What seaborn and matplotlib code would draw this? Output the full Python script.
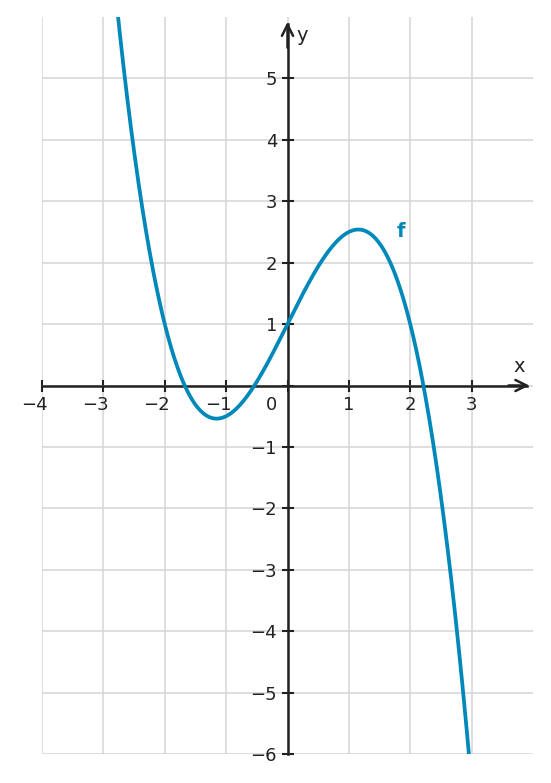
import numpy as np
import pandas as pd
import matplotlib
matplotlib.use('Agg')
import matplotlib.pyplot as plt
import seaborn as sns
from matplotlib.transforms import ScaledTranslation

# cubic: f(x) = -0.5 x^3 + 0 x^2 + 2 x + 1
coeffs = [-0.5, 0.0, 2.0, 1.0]
x_range = [-4, 4]
y_range = [-6, 6]
xticks = [-4, -3, -2, -1, 0, 1, 2, 3]
xticklabels = ['−4', '−3', '−2', '−1', '0', '1', '2', '3']
yticks = [-6, -5, -4, -3, -2, -1, 0, 1, 2, 3, 4, 5]
yticklabels = ['−6', '−5', '−4', '−3', '−2', '−1', '', '1', '2', '3', '4', '5']
curve_label = 'f'

CURVE = '#0088bb'
AX = '#222222'

sns.set_style('whitegrid')
plt.rcParams['font.family'] = ['DejaVu Sans']

fig = plt.figure(figsize=(5.51, 7.83), dpi=100)
ax = fig.add_axes([42 / 551, 29 / 783, 491 / 551, 737 / 783])

xs = np.linspace(x_range[0], x_range[1], 801)
df = pd.DataFrame({'x': xs, 'y': np.polyval(coeffs, xs)})
sns.lineplot(data=df, x='x', y='y', color=CURVE, lw=2.7, ax=ax, zorder=5)

ax.set_xlim(*x_range)
ax.set_ylim(*y_range)
ax.set_xlabel('')
ax.set_ylabel('')
ax.set_facecolor('white')
ax.grid(True, color='#d4d4d4', lw=1.1)
ax.set_axisbelow(True)

for s in ['top', 'right']:
    ax.spines[s].set_visible(False)
for s in ['left', 'bottom']:
    ax.spines[s].set_position(('data', 0))
    ax.spines[s].set_color(AX)
    ax.spines[s].set_linewidth(1.8)
    ax.spines[s].set_zorder(4)
ax.spines['bottom'].set_bounds(-4, 3.9)
ax.spines['left'].set_bounds(-6, 5.88)

ax.annotate('', xy=(3.94, 0), xytext=(3.6, 0),
            arrowprops=dict(arrowstyle='->', color=AX, lw=1.8, mutation_scale=20,
                            shrinkA=0, shrinkB=0), zorder=6)
ax.annotate('', xy=(0, 5.92), xytext=(0, 5.5),
            arrowprops=dict(arrowstyle='->', color=AX, lw=1.8, mutation_scale=20,
                            shrinkA=0, shrinkB=0), zorder=6)

ax.set_xticks(xticks)
ax.set_xticklabels(xticklabels)
ax.set_yticks(yticks)
ax.set_yticklabels(yticklabels)
ax.tick_params(bottom=True, left=True, top=False, right=False,
               direction='inout', length=9, width=1.5, color=AX,
               labelsize=13, labelcolor=AX)
ax.tick_params(axis='x', pad=3)
ax.tick_params(axis='y', pad=3)

for tick, lab in zip(ax.xaxis.get_major_ticks(), xticklabels):
    if lab.startswith('−'):
        tick.label1.set_transform(tick.label1.get_transform() +
                                  ScaledTranslation(-8 / 100, 0, fig.dpi_scale_trans))
    elif lab == '0':
        tick.label1.set_transform(tick.label1.get_transform() +
                                  ScaledTranslation(-16 / 100, 0, fig.dpi_scale_trans))

ax.text(3.77, 0.31, 'x', fontsize=14, color=AX, ha='center', va='center')
ax.text(0.14, 5.7, 'y', fontsize=14, color=AX, ha='left', va='center')
ax.text(1.84, 2.51, curve_label, fontsize=14, fontweight='bold', color=CURVE,
        ha='center', va='center')

fig.savefig('out.png', dpi=100)
